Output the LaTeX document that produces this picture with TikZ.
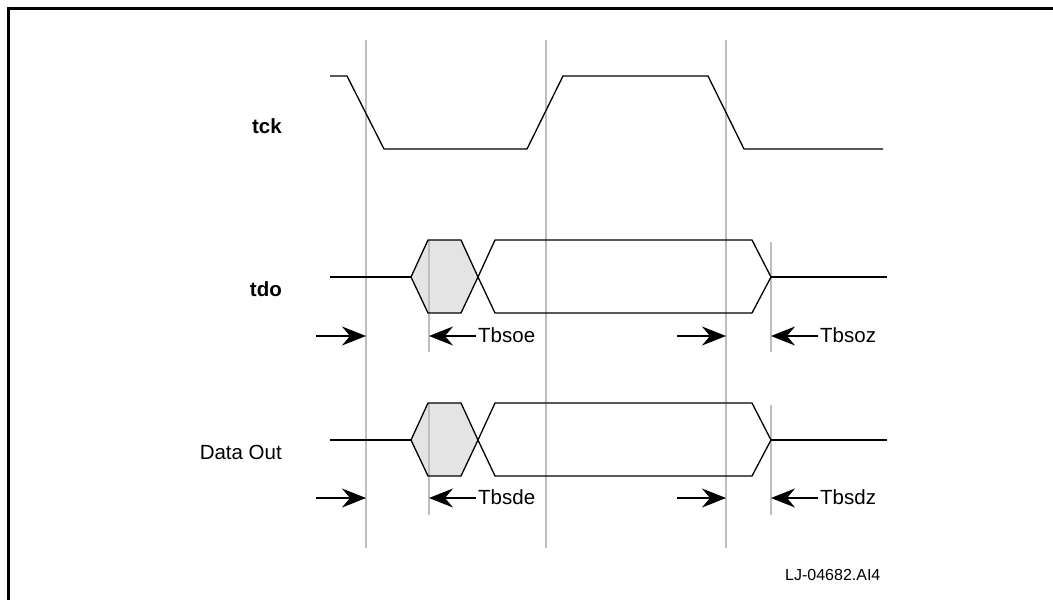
\documentclass[tikz,border=0pt]{standalone}
\usepackage{fontspec}
\setmainfont{Liberation Sans}
\usetikzlibrary{arrows.meta}
\definecolor{guide}{RGB}{190,190,190}
\definecolor{hexfill}{RGB}{228,228,228}
\tikzset{
  sig/.style={line width=1.3pt, black, line join=miter},
  guideline/.style={line width=1.5pt, guide},
  marker/.style={line width=1.2pt, -{Stealth[length=24pt,width=19pt,inset=8pt]}},
  lbl/.style={font=\fontsize{20.5}{24}\selectfont, inner sep=0pt, anchor=base east},
  blbl/.style={lbl, font=\fontsize{20.5}{24}\selectfont\bfseries},
  tlbl/.style={font=\fontsize{20.5}{24}\selectfont, inner sep=0pt, anchor=base west},
}
\begin{document}
\begin{tikzpicture}[x=1pt,y=-1pt]
\useasboundingbox (0,0) rectangle (1053,600);
% frame
\draw[line width=2.5pt] (8.5,620) -- (8.5,8.5) -- (1070,8.5);

% shaded hexagons
\foreach \dy in {0,163}{
  \fill[hexfill] (411,277+\dy) -- (428,240+\dy) -- (461,240+\dy) -- (478,277+\dy) -- (461,313+\dy) -- (428,313+\dy) -- cycle;
}

% guide lines
\draw[guideline] (366,40) -- (366,548);
\draw[guideline] (546,40) -- (546,548);
\draw[guideline] (726,40) -- (726,548);
\foreach \dy in {0,163}{
  \draw[guideline] (429,240+\dy) -- (429,352+\dy);
  \draw[guideline] (771,242+\dy) -- (771,352+\dy);
}

% tck
\draw[sig] (330,76) -- (347,76) -- (384,149) -- (527,149) -- (563,76) -- (708,76) -- (744,149) -- (883,149);

% tdo and Data Out
\foreach \dy in {0,163}{
  \draw[sig] (330,277+\dy) -- (411,277+\dy);
  \draw[sig] (411,277+\dy) -- (428,240+\dy) -- (461,240+\dy) -- (478,277+\dy) -- (461,313+\dy) -- (428,313+\dy) -- cycle;
  \draw[sig] (478,277+\dy) -- (495,240+\dy) -- (752,240+\dy) -- (771,277+\dy) -- (752,313+\dy) -- (495,313+\dy) -- cycle;
  \draw[sig] (771,277+\dy) -- (887,277+\dy);
}

% labels
\node[blbl] (tck) at (282,133) {tck};
\node[blbl] (tdo) at (282,296) {tdo};
\node[lbl] (dout) at (282,459) {Data Out};

% timing markers row 1
\coordinate (a1s) at (316,336); \coordinate (a1e) at (366,336);
\coordinate (a2s) at (677,336); \coordinate (a2e) at (726,336);
\node[tlbl] (tbsoe) at (478,342) {Tbsoe};
\node[tlbl] (tbsoz) at (820,342) {Tbsoz};
\coordinate (a3e) at (429,336);
\coordinate (a4e) at (771,336);
\draw[marker] (a1s) -- (a1e);
\draw[marker] (a2s) -- (a2e);
\draw[marker] ([xshift=-2pt]tbsoe.west |- a3e) -- (a3e);
\draw[marker] ([xshift=-2pt]tbsoz.west |- a4e) -- (a4e);

% timing markers row 2
\coordinate (b1s) at (316,498); \coordinate (b1e) at (366,498);
\coordinate (b2s) at (677,498); \coordinate (b2e) at (726,498);
\node[tlbl] (tbsde) at (478,504) {Tbsde};
\node[tlbl] (tbsdz) at (820,504) {Tbsdz};
\coordinate (b3e) at (429,498);
\coordinate (b4e) at (771,498);
\draw[marker] (b1s) -- (b1e);
\draw[marker] (b2s) -- (b2e);
\draw[marker] ([xshift=-2pt]tbsde.west |- b3e) -- (b3e);
\draw[marker] ([xshift=-2pt]tbsdz.west |- b4e) -- (b4e);

% footer
\node[font=\fontsize{16}{19}\selectfont, inner sep=0pt, anchor=base west] (ref) at (785,580) {LJ-04682.AI4};
\end{tikzpicture}
\end{document}
